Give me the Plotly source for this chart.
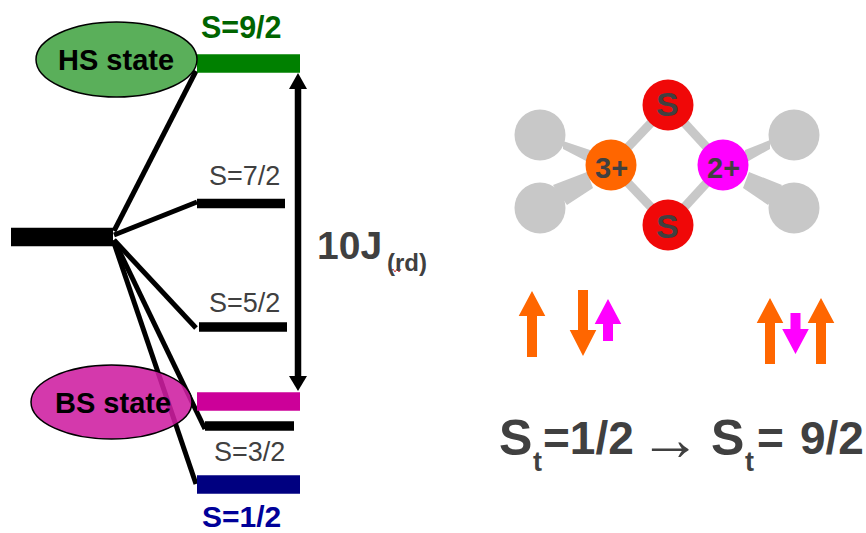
import plotly.graph_objects as go

FONT = "Liberation Sans"
DARK = "#404040"
ORANGE = "#ff6600"
MAGENTA = "#ff00ff"
GREY = "#c8c8c8"

# Energy levels: label, x0, x1, y centre, thickness, colour
level_names = ["base", "S=9/2", "S=7/2", "S=5/2", "BS", "S=3/2", "S=1/2"]
level_x0 = [11, 197, 197, 199, 197, 205, 197]
level_x1 = [113, 300, 285, 287, 300, 294, 300]
level_y = [237, 63.5, 203.5, 327, 401.5, 426, 484.5]
level_width = [18.5, 18.5, 9.5, 9.5, 18.5, 9.5, 18.5]
level_color = ["#000000", "#008000", "#000000", "#000000", "#cc0099", "#000000", "#000080"]

# Connectors from the base level
conn_x0 = [114, 114, 114, 114, 114]
conn_y0 = [231, 235, 240, 240, 243]
conn_x1 = [196, 197, 196, 205, 196]
conn_y1 = [71, 202, 328, 429, 484]

# Atoms
grey_x = [540, 540, 794, 794]
grey_y = [135, 208, 135, 208]
sulfur_x = [668, 668]
sulfur_y = [105, 225]
iron_x = [611, 723]
iron_y = [165, 165]
iron_color = [ORANGE, MAGENTA]

# Spin arrows: x centre, tail y, tip y, head base y, colour
spin_x = [532, 583, 608, 770, 795.5, 821]
spin_tail = [357, 290, 341, 364, 313, 364]
spin_tip = [291, 356, 299, 298, 354, 298]
spin_base = [316, 330, 324, 323, 329, 323]
spin_color = [ORANGE, ORANGE, MAGENTA, ORANGE, MAGENTA, ORANGE]

# Text: string, x, y, size, colour
txt = ["<b>S=9/2</b>", "<b>S=1/2</b>", "S=7/2", "S=5/2", "S=3/2", "<b>HS state</b>", "<b>BS state</b>",
       "<b>10J</b>", "<b>(rd)</b>", "<b>S</b>", "<b>S</b>", "<b>3+</b>", "<b>2+</b>",
       "<b>S</b>", "<b>t</b>", "<b>=1/2</b>", "→", "<b>S</b>", "<b>t</b>", "<b>=</b>", "<b>9/2</b>"]
txt_x = [241, 241, 244, 244, 249, 116, 113,
         349, 407, 667, 667, 611, 723,
         515, 537, 588, 670, 727, 749, 770, 832]
txt_y = [27, 516, 176, 303, 452, 60, 403,
         245, 262, 104, 226, 168, 168,
         438, 462, 438, 438, 438, 462, 438, 438]
txt_size = [30.5, 30, 27, 27, 27, 29, 29,
            39, 24, 34, 34, 29, 29,
            50, 27, 46, 62, 50, 27, 46, 46]
txt_color = ["#006400", "#000099", DARK, DARK, DARK, "#000000", "#000000",
             DARK, DARK, DARK, DARK, DARK, DARK,
             DARK, DARK, DARK, DARK, DARK, DARK, DARK, DARK]

fig = go.Figure()


def polygon(xs, ys, color):
    fig.add_trace(go.Scatter(x=xs, y=ys, mode="lines", fill="toself", fillcolor=color,
                             line=dict(color=color, width=0), hoverinfo="skip"))


def line(xs, ys, color, width):
    fig.add_trace(go.Scatter(x=xs, y=ys, mode="lines", line=dict(color=color, width=width),
                             hoverinfo="skip"))


# Connectors
for x0, y0, x1, y1 in zip(conn_x0, conn_y0, conn_x1, conn_y1):
    line([x0, x1], [y0, y1], "#000000", 5)

# Levels
for x0, x1, y, w, c in zip(level_x0, level_x1, level_y, level_width, level_color):
    line([x0, x1], [y, y], c, w)

# Double arrow
line([298, 298], [85, 380], "#000000", 6.5)
polygon([298, 289, 307, 298], [73, 89, 89, 73], "#000000")
polygon([298, 289, 307, 298], [391, 376, 376, 391], "#000000")

# Spell-check squiggle
line([389, 391, 393, 395, 397, 399, 401], [269, 272, 269, 272, 269, 272, 269], "#d04040", 1)

# Bonds
bond_pairs = [(0, 0), (1, 0), (0, 1), (1, 1)]
for s, f in bond_pairs:
    line([sulfur_x[s], iron_x[f]], [sulfur_y[s], iron_y[f]], GREY, 9)
polygon([563, 563, 590, 590], [141, 149, 163, 150], GREY)
polygon([553, 567, 593, 587], [185, 205, 188, 172], GREY)
polygon([770, 770, 745, 745], [140, 149, 163, 150], GREY)
polygon([782, 768, 743, 749], [185, 205, 188, 172], GREY)

fig.add_trace(go.Scatter(x=grey_x, y=grey_y, mode="markers", hoverinfo="skip",
                         marker=dict(size=51, color=GREY, line=dict(width=0))))
fig.add_trace(go.Scatter(x=sulfur_x, y=sulfur_y, mode="markers", hoverinfo="skip",
                         marker=dict(size=51, color="#f00808", line=dict(width=0))))
fig.add_trace(go.Scatter(x=iron_x, y=iron_y, mode="markers", hoverinfo="skip",
                         marker=dict(size=51, color=iron_color, line=dict(width=0))))

# Spin arrows
for x, tail, tip, base, c in zip(spin_x, spin_tail, spin_tip, spin_base, spin_color):
    polygon([x - 5, x - 5, x - 13.3, x, x + 13.3, x + 5, x + 5, x - 5],
            [tail, base, base, tip, base, base, tail, tail], c)

shapes = [
    dict(type="circle", xref="x", yref="y", x0=36, x1=197, y0=22, y1=97, layer="above",
         fillcolor="rgba(90,175,90,1)", line=dict(color="#000000", width=1.5)),
    dict(type="circle", xref="x", yref="y", x0=31, x1=192, y0=365, y1=439, layer="above",
         fillcolor="rgba(206,30,160,0.88)", line=dict(color="#000000", width=1.5)),
]

annotations = [
    dict(text=t, x=x, y=y, xref="x", yref="y", showarrow=False, xanchor="center", yanchor="middle",
         font=dict(family=FONT, size=s, color=c))
    for t, x, y, s, c in zip(txt, txt_x, txt_y, txt_size, txt_color)
]

fig.update_layout(
    width=866, height=533, margin=dict(l=0, r=0, t=0, b=0),
    paper_bgcolor="white", plot_bgcolor="white", showlegend=False,
    xaxis=dict(range=[0, 866], visible=False, fixedrange=True),
    yaxis=dict(range=[533, 0], visible=False, fixedrange=True),
    shapes=shapes, annotations=annotations,
)

fig.write_html("out.html", config={"displayModeBar": False},
               post_script="document.body.style.margin='0';")
